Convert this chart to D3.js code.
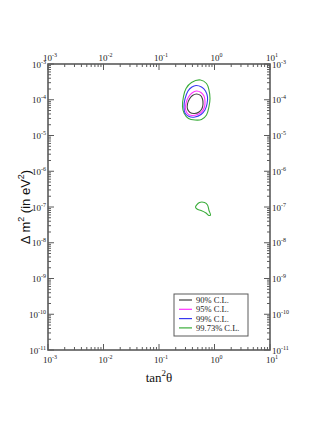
<!DOCTYPE html>
<html><head><meta charset="utf-8">
<script src="https://cdn.jsdelivr.net/npm/d3@7"></script>
<style>body{margin:0;background:#fff;} svg{display:block;}</style>
</head><body>
<script>
// ---- data ----
const xDecades = [-3, -2, -1, 0, 1];
const yDecades = [-3, -4, -5, -6, -7, -8, -9, -10, -11];
const levels = ["90% C.L.", "95% C.L.", "99% C.L.", "99.73% C.L."];
const levelColors = ["#404040", "#ff30ff", "#3838f0", "#3aad3a"];
// contours: [tan^2 theta, delta m^2 (eV^2)]
const cl90 = [[0.474,1.45e-4],[0.559,1.32e-4],[0.608,1.05e-4],[0.621,7.60e-5],[0.595,5.69e-5],[0.526,4.54e-5],[0.436,4.12e-5],[0.362,4.40e-5],[0.326,5.51e-5],[0.326,7.60e-5],[0.354,1.05e-4],[0.401,1.32e-4]];
const cl95 = [[0.474,1.76e-4],[0.571,1.60e-4],[0.647,1.27e-4],[0.674,9.23e-5],[0.660,6.27e-5],[0.595,4.69e-5],[0.494,3.87e-5],[0.393,3.63e-5],[0.326,4.12e-5],[0.300,5.51e-5],[0.307,8.11e-5],[0.340,1.19e-4],[0.393,1.55e-4]];
const cl99 = [[0.464,2.50e-4],[0.583,2.27e-4],[0.688,1.76e-4],[0.748,1.19e-4],[0.733,7.60e-5],[0.674,5.17e-5],[0.571,3.87e-5],[0.445,3.29e-5],[0.347,3.40e-5],[0.294,4.26e-5],[0.282,6.27e-5],[0.294,1.05e-4],[0.333,1.76e-4],[0.393,2.27e-4]];
const cl9973 = [[0.559,3.57e-4],[0.718,2.85e-4],[0.796,1.87e-4],[0.830,1.08e-4],[0.796,6.47e-5],[0.718,3.75e-5],[0.583,2.80e-5],[0.445,2.71e-5],[0.340,2.99e-5],[0.282,4.26e-5],[0.265,6.47e-5],[0.276,1.23e-4],[0.307,2.06e-4],[0.385,3.04e-4]];
const cl9973low = [[0.455,1.00e-7],[0.537,1.34e-7],[0.660,1.34e-7],[0.748,1.14e-7],[0.796,7.98e-8],[0.847,5.97e-8],[0.796,5.78e-8],[0.703,6.80e-8],[0.571,7.98e-8],[0.484,8.79e-8]];

const contours = [
  {level:0, pts:cl90}, {level:1, pts:cl95}, {level:2, pts:cl99},
  {level:3, pts:cl9973}, {level:3, pts:cl9973low}
];

// ---- layout ----
const W = 327, H = 423;
const L = 48, R = 270, T = 64, B = 350;
const axisColor = "#5a5a5a";
const svg = d3.select("body").append("svg").attr("width", W).attr("height", H);

const x = d3.scaleLog().domain([1e-3, 10]).range([L, R]);
const y = d3.scaleLog().domain([1e-11, 1e-3]).range([B, T]);

// minor/major ticks
const xMinor = [], yMinor = [];
for (let e = -3; e < 1; e++) for (let m = 2; m <= 9; m++) xMinor.push(m * Math.pow(10, e));
for (let e = -11; e < -3; e++) for (let m = 2; m <= 9; m++) yMinor.push(m * Math.pow(10, e));

const g = svg.append("g");
function tickLines(vals, len, isX){
  vals.forEach(v => {
    if (isX) {
      const px = x(v);
      g.append("line").attr("x1",px).attr("x2",px).attr("y1",B).attr("y2",B-len);
      g.append("line").attr("x1",px).attr("x2",px).attr("y1",T).attr("y2",T+len);
    } else {
      const py = y(v);
      g.append("line").attr("x1",L).attr("x2",L+len).attr("y1",py).attr("y2",py);
      g.append("line").attr("x1",R).attr("x2",R-len).attr("y1",py).attr("y2",py);
    }
  });
}
g.attr("stroke", axisColor).attr("stroke-width", 1);
tickLines(xMinor, 3, true);
tickLines(xDecades.map(e => Math.pow(10, e)), 6, true);
tickLines(yMinor, 3, false);
tickLines(yDecades.map(e => Math.pow(10, e)), 6, false);

// frame
svg.append("rect").attr("x", L).attr("y", T).attr("width", R-L).attr("height", B-T)
  .attr("fill","none").attr("stroke", axisColor).attr("stroke-width", 1.6);

// tick labels
const serif = "'Liberation Serif', 'DejaVu Serif', serif";
function powLabel(px, py, e, anchor){
  const t = svg.append("text").attr("x", px).attr("y", py)
    .attr("font-family", serif).attr("font-size", 9).attr("fill", "#222")
    .attr("text-anchor", anchor);
  t.append("tspan").text("10");
  t.append("tspan").attr("dy", -4).attr("font-size", 6).text(String(e).replace("-", "-"));
}
xDecades.forEach(e => {
  powLabel(x(Math.pow(10,e)) + 2, T - 3, e, "middle");
  powLabel(x(Math.pow(10,e)) + 2, B + 13, e, "middle");
});
yDecades.forEach(e => {
  powLabel(L - 2, y(Math.pow(10,e)) + 3.5, e, "end");
  powLabel(R + 2, y(Math.pow(10,e)) + 3.5, e, "start");
});

// axis titles
const xt = svg.append("text").attr("x", (L+R)/2).attr("y", 382)
  .attr("text-anchor","middle").attr("font-family", serif).attr("font-size", 13).attr("fill","#111");
xt.append("tspan").text("tan");
xt.append("tspan").attr("dy", -6).attr("font-size", 9).text("2");
xt.append("tspan").attr("dy", 6).text("θ");

const yt = svg.append("text").attr("transform", "translate(30,207) rotate(-90)")
  .attr("text-anchor","middle").attr("font-family","'Liberation Sans', Arial, sans-serif")
  .attr("font-size", 13).attr("fill","#111");
yt.append("tspan").text("Δ m");
yt.append("tspan").attr("dy", -6).attr("font-size", 9).text("2");
yt.append("tspan").attr("dy", 6).text(" (in eV");
yt.append("tspan").attr("dy", -6).attr("font-size", 9).text("2");
yt.append("tspan").attr("dy", 6).text(")");

// contours
const line = d3.line().x(d => x(d[0])).y(d => y(d[1])).curve(d3.curveCatmullRomClosed.alpha(0.5));
svg.append("g").selectAll("path").data(contours.slice().reverse()).join("path")
  .attr("d", d => line(d.pts)).attr("fill","none")
  .attr("stroke", d => levelColors[d.level]).attr("stroke-width", 1.1);

// legend
const lx = 174, ly = 294, lw = 74, lh = 42;
svg.append("rect").attr("x", lx).attr("y", ly).attr("width", lw).attr("height", lh)
  .attr("fill","#fff").attr("stroke", axisColor).attr("stroke-width", 1);
levels.forEach((name, i) => {
  const yy = ly + 6 + i * 9.3;
  svg.append("line").attr("x1", lx+5).attr("x2", lx+18).attr("y1", yy).attr("y2", yy)
    .attr("stroke", levelColors[i]).attr("stroke-width", 1.2);
  svg.append("text").attr("x", lx+22).attr("y", yy+3).attr("font-family", serif)
    .attr("font-size", 8.5).attr("fill","#222").text(name);
});
</script>
</body></html>
